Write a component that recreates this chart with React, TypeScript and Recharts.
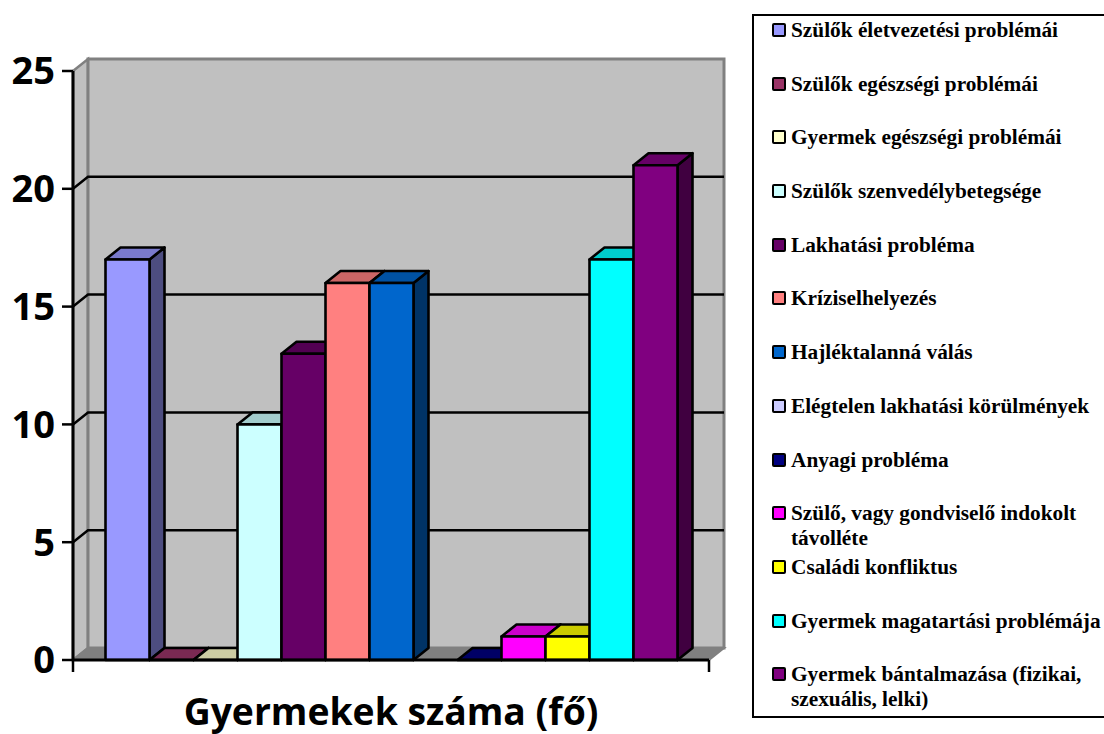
import React from "react";
import {
  BarChart,
  Bar,
  Legend,
  ReferenceLine,
  XAxis,
  YAxis,
  usePlotArea,
} from "recharts";

const categoryLabel = "Gyermekek száma (fő)";

const seriesNames = [
  "Szülők életvezetési problémái",
  "Szülők egészségi problémái",
  "Gyermek egészségi problémái",
  "Szülők szenvedélybetegsége",
  "Lakhatási probléma",
  "Kríziselhelyezés",
  "Hajléktalanná válás",
  "Elégtelen lakhatási körülmények",
  "Anyagi probléma",
  "Szülő, vagy gondviselő indokolt távolléte",
  "Családi konfliktus",
  "Gyermek magatartási problémája",
  "Gyermek bántalmazása (fizikai, szexuális, lelki)",
];

const seriesValues = [17, 0, 0, 10, 13, 16, 16, null, 0, 1, 1, 17, 21];

const seriesColors = [
  "#9999ff", "#993366", "#ffffcc", "#ccffff", "#660066", "#ff8080", "#0066cc",
  "#ccccff", "#000080", "#ff00ff", "#ffff00", "#00ffff", "#800080",
];

const yTicks = [0, 5, 10, 15, 20, 25];
const gridValues = [5, 10, 15, 20];

const DX = 15;
const DY = 12;

const row: Record<string, any> = { category: categoryLabel };
seriesNames.forEach((name, i) => {
  row["s" + i] = seriesValues[i];
});
const data = [row];

function shade(hex: string, k: number) {
  const n = parseInt(hex.slice(1), 16);
  const c = [(n >> 16) & 255, (n >> 8) & 255, n & 255].map((v) => Math.round(v * k));
  return `rgb(${c[0]},${c[1]},${c[2]})`;
}

// the empty 3D box behind the bars
function Walls() {
  const p = usePlotArea();
  if (!p) return null;
  const l = p.x;
  const r = p.x + p.width;
  const t = p.y;
  const b = p.y + p.height;
  return (
    <g>
      <polygon
        points={`${l},${t} ${l + DX},${t - DY} ${l + DX},${b - DY} ${l},${b}`}
        fill="#c0c0c0"
        stroke="#808080"
        strokeWidth={2.5}
      />
      <rect
        x={l + DX}
        y={t - DY}
        width={p.width}
        height={p.height}
        fill="#c0c0c0"
        stroke="#808080"
        strokeWidth={3}
      />
      <polygon
        points={`${l},${b} ${l + DX},${b - DY} ${r + DX},${b - DY} ${r},${b}`}
        fill="#808080"
        stroke="#808080"
        strokeWidth={2}
      />
      <line x1={l} x2={l} y1={b} y2={b + 12} stroke="#000" strokeWidth={2.5} />
      <line x1={r} x2={r} y1={b} y2={b + 12} stroke="#000" strokeWidth={2.5} />
    </g>
  );
}

// gridline running up the side wall and along the rear wall
function BackLine(props: any) {
  const { x1, x2, y1 } = props;
  if (x1 == null) return null;
  return (
    <polyline
      points={`${x1},${y1} ${x1 + DX},${y1 - DY} ${x2 + DX},${y1 - DY}`}
      fill="none"
      stroke="#000"
      strokeWidth={2.5}
    />
  );
}

function Bar3D(props: any) {
  const { x, y, width, height, fill, value } = props;
  if (value == null || Number.isNaN(y)) return null;
  const common = { stroke: "#000", strokeWidth: 2.6, strokeLinejoin: "round" as const };
  return (
    <g>
      <polygon
        points={`${x + width},${y} ${x + width + DX},${y - DY} ${x + width + DX},${y + height - DY} ${x + width},${y + height}`}
        fill={shade(fill, 0.5)}
        {...common}
      />
      <polygon
        points={`${x},${y} ${x + DX},${y - DY} ${x + width + DX},${y - DY} ${x + width},${y}`}
        fill={shade(fill, 0.8)}
        {...common}
      />
      <rect x={x} y={y} width={width} height={height} fill={fill} {...common} />
    </g>
  );
}

function LegendBox({ payload }: any) {
  return (
    <div
      style={{
        width: 356,
        height: 698,
        paddingTop: 2,
        boxSizing: "content-box",
        border: "2.5px solid #000",
        background: "#fff",
        fontFamily: "'Liberation Serif', serif",
        fontWeight: 700,
        fontSize: 21.3,
        lineHeight: "25px",
        color: "#000",
      }}
    >
      {(payload || []).map((item: any) => (
        <div
          key={item.value}
          style={{ height: 53.7, display: "flex", paddingLeft: 18, width: 332 }}
        >
          <span
            style={{
              flex: "none",
              width: 10,
              height: 10,
              marginTop: 5,
              marginRight: 5,
              border: "2.5px solid #000",
              borderRadius: 2,
              background: item.color,
            }}
          />
          <span>{item.value}</span>
        </div>
      ))}
    </div>
  );
}

export default function App() {
  return (
    <div style={{ position: "absolute", left: 0, top: 0, width: 1104, height: 734, overflow: "hidden", background: "#fff" }}>
      <BarChart
        width={1104}
        height={734}
        data={data}
        margin={{ top: 71, right: 395, bottom: 0, left: 0 }}
        barGap={0}
        barCategoryGap={32.5}
      >
        <Walls />
        <XAxis
          dataKey="category"
          height={74}
          axisLine={{ stroke: "#000", strokeWidth: 3 }}
          tickLine={false}
          tickMargin={33}
          tick={{ fill: "#000", fontFamily: "'Open Sans', sans-serif", fontWeight: 700, fontSize: 37.3 }}
        />
        <YAxis
          width={73}
          domain={[0, 25]}
          ticks={yTicks}
          axisLine={{ stroke: "#000", strokeWidth: 3 }}
          tickLine={{ stroke: "#000", strokeWidth: 2.5 }}
          tickSize={11}
          tickMargin={7}
          tick={{ fill: "#000", fontFamily: "'Open Sans', sans-serif", fontWeight: 700, fontSize: 38 }}
        />
        {gridValues.map((v) => (
          <ReferenceLine key={v} y={v} zIndex={1} shape={<BackLine />} />
        ))}
        <Legend
          layout="vertical"
          align="center"
          verticalAlign="middle"
          itemSorter={null}
          wrapperStyle={{ left: 752, top: 14, width: 361 }}
          content={<LegendBox />}
        />
        {seriesNames.map((name, i) => (
          <Bar
            key={name}
            dataKey={"s" + i}
            name={name}
            fill={seriesColors[i]}
            shape={<Bar3D />}
            isAnimationActive={false}
          />
        ))}
      </BarChart>
    </div>
  );
}
